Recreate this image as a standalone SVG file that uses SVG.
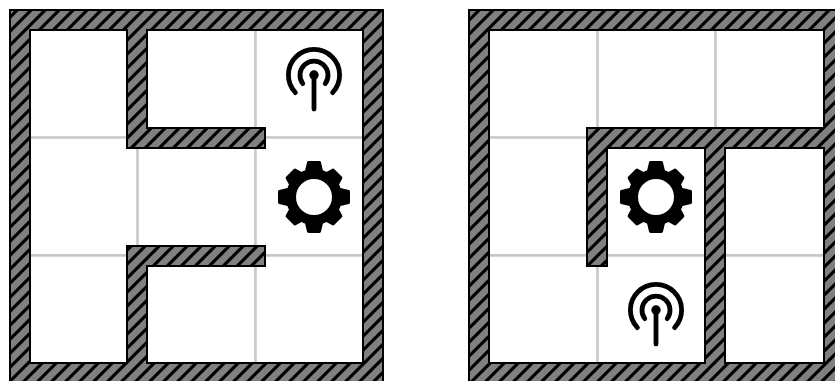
<svg xmlns="http://www.w3.org/2000/svg" width="835" height="381" viewBox="0 0 835 381">
<style>
.grid{stroke:#c8c8c8;stroke-width:2.6;fill:none}
.wb{stroke:#000;stroke-width:22;fill:none;stroke-linejoin:miter;stroke-linecap:square;shape-rendering:crispEdges}
.wh{stroke:url(#hatch);stroke-width:18;fill:none;stroke-linejoin:miter;stroke-linecap:square;shape-rendering:crispEdges}
.ic{stroke:#000;fill:none;stroke-width:4.8;stroke-linecap:round}
.tooth{fill:#000;stroke:#000;stroke-width:3;stroke-linejoin:round}
</style>
<defs>
<pattern id="hatch" width="14" height="14" patternUnits="userSpaceOnUse">
<rect width="14" height="14" fill="#808080"/>
<path fill="#000" d="M11 0H14V1.5L1.5 14H0V11ZM14 11V14H11ZM0 0H1.5L0 1.5Z"/>
</pattern>
<path id="tc" class="tooth" d="M-8 -24L-5.5 -34.5H5.5L8 -24Z"/>
<path id="td" class="tooth" d="M-8 -24L-5.5 -32.5H5.5L8 -24Z"/>
<g id="gear">
<circle r="23" fill="none" stroke="#000" stroke-width="10"/>
<use href="#tc"/>
<use href="#td" transform="rotate(45)"/>
<use href="#tc" transform="rotate(90)"/>
<use href="#td" transform="rotate(135)"/>
<use href="#tc" transform="rotate(180)"/>
<use href="#td" transform="rotate(225)"/>
<use href="#tc" transform="rotate(270)"/>
<use href="#td" transform="rotate(315)"/>
</g>
<g id="antenna">
<circle r="4.7" fill="#000"/>
<path class="ic" d="M0 0V34"/>
<path class="ic" d="M-11.2 8.6A14 14 0 1 1 11.2 8.6"/>
<path class="ic" d="M-18.6 17.6A25.6 25.6 0 1 1 18.6 17.6"/>
</g>
</defs>
<rect width="835" height="381" fill="#fff"/>
<g id="panel-left">
<path class="grid" d="M137.5 20V373M255.5 20V373M20 137.5H372M20 255.4H372"/>
<path class="wb" d="M19.5 20H372.5V373H19.5Z"/>
<path class="wb" d="M137 20V138.3H255"/>
<path class="wb" d="M137 373V255.7H255"/>
<path class="wh" d="M19.5 20H372.5V373H19.5Z"/>
<path class="wh" d="M137 20V138.3H255"/>
<path class="wh" d="M137 373V255.7H255"/>
<use id="gear-left" href="#gear" x="314" y="197"/>
<use id="antenna-left" href="#antenna" x="314" y="75"/>
</g>
<g id="panel-right">
<path class="grid" d="M597.5 20V373M715.5 20V373M479 137.5H834M479 255.4H834"/>
<path class="wb" d="M479 20H834V373H479Z"/>
<path class="wb" d="M597 255.7V138.3H834"/>
<path class="wb" d="M714.5 138.3V373"/>
<path class="wh" d="M479 20H834V373H479Z"/>
<path class="wh" d="M597 255.7V138.3H834"/>
<path class="wh" d="M714.5 138.3V373"/>
<use id="gear-right" href="#gear" x="656" y="197"/>
<use id="antenna-right" href="#antenna" x="656" y="310"/>
</g>
</svg>
